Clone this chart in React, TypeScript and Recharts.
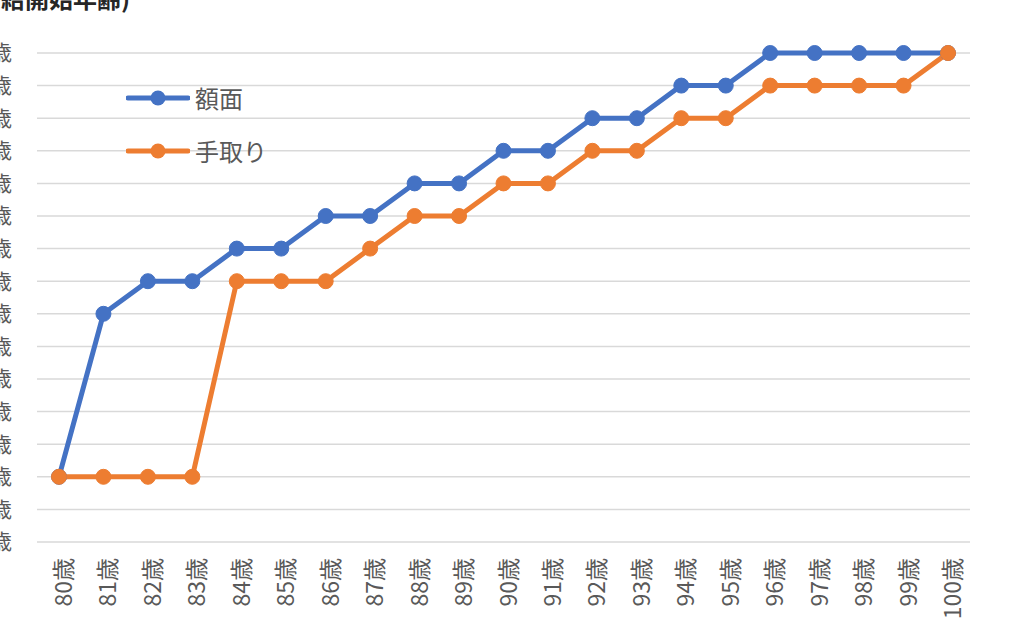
import { CartesianGrid, Legend, Line, LineChart, XAxis, YAxis } from "recharts";

const ages = [
  "80歳", "81歳", "82歳", "83歳", "84歳", "85歳", "86歳", "87歳", "88歳", "89歳", "90歳",
  "91歳", "92歳", "93歳", "94歳", "95歳", "96歳", "97歳", "98歳", "99歳", "100歳",
];

// 受給開始年齢（額面ベース）
const gross = [62, 67, 68, 68, 69, 69, 70, 70, 71, 71, 72, 72, 73, 73, 74, 74, 75, 75, 75, 75, 75];
// 受給開始年齢（手取りベース）
const net = [62, 62, 62, 62, 68, 68, 68, 69, 70, 70, 71, 71, 72, 72, 73, 73, 74, 74, 74, 74, 75];

const yTicks = [60, 61, 62, 63, 64, 65, 66, 67, 68, 69, 70, 71, 72, 73, 74, 75];

const data = ages.map((name, i) => ({ name, gross: gross[i], net: net[i] }));

const BLUE = "#4472C4";
const ORANGE = "#ED7D31";
const FONT = '"Noto Sans CJK JP", "Noto Sans", sans-serif';

const AgeTick = ({ x, y, payload }: any) => (
  <text
    x={x + 3}
    y={y}
    transform={`rotate(-90 ${x + 3} ${y})`}
    textAnchor="end"
    dominantBaseline="central"
    fontSize={23}
    fill="#595959"
    fontFamily={FONT}
  >
    {payload.value}
  </text>
);

const LegendBox = () => (
  <div style={{ fontFamily: FONT, fontSize: 24, color: "#595959" }}>
    {[
      { label: "額面", color: BLUE },
      { label: "手取り", color: ORANGE },
    ].map((item) => (
      <div key={item.label} style={{ display: "flex", alignItems: "center", height: 53 }}>
        <svg width={64} height={18} style={{ marginRight: 5 }}>
          <line x1={2} y1={9} x2={62} y2={9} stroke={item.color} strokeWidth={5} strokeLinecap="round" />
          <circle cx={32} cy={9} r={7.5} fill={item.color} />
        </svg>
        <span>{item.label}</span>
      </div>
    ))}
  </div>
);

export default function App() {
  return (
    <div
      style={{
        position: "absolute",
        left: 0,
        top: 0,
        width: 1024,
        height: 635,
        overflow: "hidden",
        background: "#fff",
      }}
    >
      <div
        style={{
          position: "absolute",
          right: 894,
          top: -14,
          fontFamily: FONT,
          fontSize: 24,
          fontWeight: 700,
          color: "#262626",
          whiteSpace: "nowrap",
          lineHeight: "24px",
        }}
      >
        (受給開始年齢)
      </div>
      <LineChart
        width={1024}
        height={635}
        data={data}
        margin={{ top: 53, right: 54, bottom: 0, left: 0 }}
        style={{ fontFamily: FONT }}
      >
        <CartesianGrid vertical={false} stroke="#D9D9D9" strokeWidth={1.5} />
        <XAxis
          dataKey="name"
          height={93}
          interval={0}
          padding={{ left: 22, right: 22 }}
          axisLine={false}
          tickLine={false}
          tickMargin={10}
          tick={<AgeTick />}
        />
        <YAxis
          width={37}
          domain={[60, 75]}
          ticks={yTicks}
          interval={0}
          tickFormatter={(v) => `${v}歳`}
          axisLine={false}
          tickLine={false}
          tickMargin={19}
          tick={{ fontSize: 21, fill: "#595959" }}
        />
        <Legend
          layout="vertical"
          align="center"
          verticalAlign="middle"
          wrapperStyle={{ left: 126, top: 71, width: "auto" }}
          content={<LegendBox />}
        />
        <Line
          type="linear"
          dataKey="gross"
          name="額面"
          stroke={BLUE}
          strokeWidth={5}
          dot={{ r: 7.5, fill: BLUE, stroke: BLUE, strokeWidth: 1 }}
          activeDot={false}
          isAnimationActive={false}
        />
        <Line
          type="linear"
          dataKey="net"
          name="手取り"
          stroke={ORANGE}
          strokeWidth={5}
          dot={{ r: 7.5, fill: ORANGE, stroke: ORANGE, strokeWidth: 1 }}
          activeDot={false}
          isAnimationActive={false}
        />
      </LineChart>
    </div>
  );
}
